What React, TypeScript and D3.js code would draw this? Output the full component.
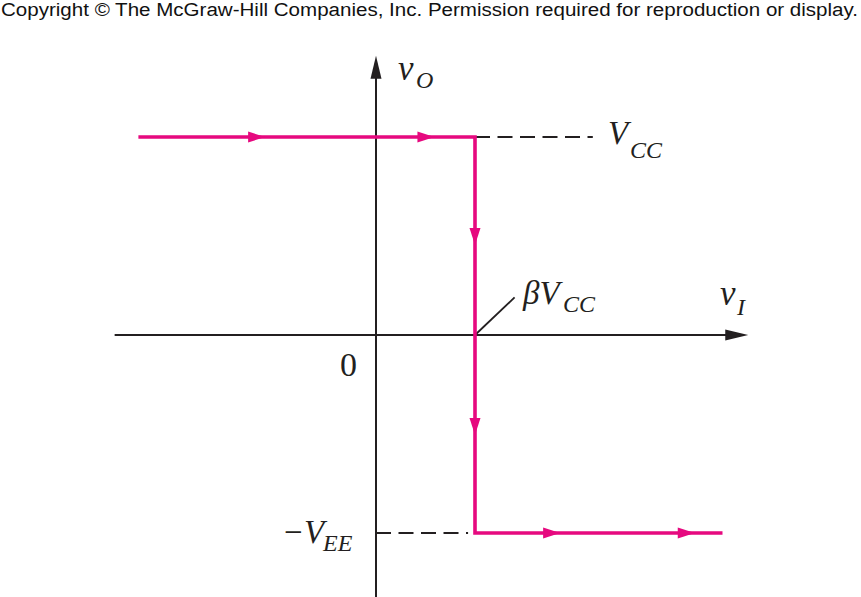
import * as d3 from 'd3';

// transfer curve of the comparator (vI in units of βVCC, vO in units of VCC)
const curveVI = [-2.4, 1, 1, 3.5];
const curveVO = [1, 1, -1, -1];

// direction arrows along the curve: position and direction
const arrowVI = [-1.12, 0.59, 1, 1, 1.86, 3.22];
const arrowVO = [1, 1, 0.455, -0.505, -1, -1];
const arrowDir = ['right', 'right', 'down', 'down', 'right', 'right'];

// dashed reference levels
const levelName = ['VCC', 'VEE'];
const levelVO = [1, -1];
const levelFrom = [1, 0];
const levelTo = [2.19, 0.93];

const W = 861;
const H = 597;
const PINK = '#e6097f';
const INK = '#231f20';
const SERIF = '"Liberation Serif", "DejaVu Serif", serif';

const x = d3.scaleLinear().domain([0, 1]).range([376, 475]);
const y = d3.scaleLinear().domain([0, 1]).range([335, 137]);

const xAxisFrom = -2.64;
const xAxisTo = 3.76;
const yAxisFrom = -1.33;
const yAxisTo = 1.41;

function triangle(cx: number, cy: number, dir: string, len: number, half: number) {
  // cx,cy is the tip
  if (dir === 'right') return `M${cx},${cy} L${cx - len},${cy - half} L${cx - len},${cy + half} Z`;
  if (dir === 'down') return `M${cx},${cy} L${cx - half},${cy - len} L${cx + half},${cy - len} Z`;
  return `M${cx},${cy} L${cx - half},${cy + len} L${cx + half},${cy + len} Z`;
}

export default function App() {
  const line = d3
    .line<number>()
    .x((i) => x(curveVI[i]))
    .y((i) => y(curveVO[i]));

  const ax0 = x(0);
  const ay0 = y(0);

  return (
    <svg
      width={W}
      height={H}
      viewBox={`0 0 ${W} ${H}`}
      style={{ position: 'absolute', left: 0, top: 0, background: '#fff' }}
    >
      <rect width={W} height={H} fill="#fff" />
      <text
        x={1}
        y={16}
        fontFamily='"Liberation Sans", Arial, sans-serif'
        fontSize={18}
        fill="#111"
        textLength={857}
        lengthAdjust="spacingAndGlyphs"
      >
        Copyright © The McGraw-Hill Companies, Inc. Permission required for reproduction or display.
      </text>

      {/* axes */}
      <line x1={x(xAxisFrom)} x2={x(xAxisTo) - 20} y1={ay0} y2={ay0} stroke={INK} strokeWidth={2} />
      <path d={triangle(x(xAxisTo), ay0, 'right', 23, 5.5)} fill={INK} />
      <line x1={ax0} x2={ax0} y1={y(yAxisFrom)} y2={y(yAxisTo) + 20} stroke={INK} strokeWidth={2} />
      <path d={triangle(ax0, y(yAxisTo), 'up', 23, 5.5)} fill={INK} />

      {/* dashed levels */}
      {levelName.map((n, i) => (
        <line
          key={n}
          x1={x(levelFrom[i])}
          x2={x(levelTo[i])}
          y1={y(levelVO[i])}
          y2={y(levelVO[i])}
          stroke={INK}
          strokeWidth={2}
          strokeDasharray="15 7.5"
        />
      ))}

      {/* βVCC leader */}
      <line x1={x(1)} y1={ay0} x2={x(1.4)} y2={y(0.19)} stroke={INK} strokeWidth={1.8} />

      {/* curve */}
      <path
        d={line(d3.range(curveVI.length)) ?? ''}
        fill="none"
        stroke={PINK}
        strokeWidth={3.6}
        strokeLinejoin="miter"
      />
      {arrowVI.map((v, i) => (
        <path key={i} d={triangle(x(v), y(arrowVO[i]), arrowDir[i], 17, 5.5)} fill={PINK} />
      ))}

      {/* labels */}
      <g fontFamily={SERIF} fill={INK}>
        <text x={398} y={80} fontSize={35} fontStyle="italic">v</text>
        <text x={416} y={88} fontSize={24} fontStyle="italic">O</text>

        <text x={608} y={144} fontSize={33} fontStyle="italic">V</text>
        <text x={630} y={158} fontSize={24} fontStyle="italic">CC</text>

        <text x={523} y={304} fontSize={33} fontStyle="italic">βV</text>
        <text x={563} y={312} fontSize={24} fontStyle="italic">CC</text>

        <text x={720} y={305} fontSize={35} fontStyle="italic">v</text>
        <text x={737} y={315} fontSize={24} fontStyle="italic">I</text>

        <text x={340} y={376} fontSize={34}>0</text>

        <text x={284} y={543} fontSize={33}>−</text>
        <text x={304} y={543} fontSize={33} fontStyle="italic">V</text>
        <text x={323} y={551} fontSize={24} fontStyle="italic">EE</text>
      </g>
    </svg>
  );
}
